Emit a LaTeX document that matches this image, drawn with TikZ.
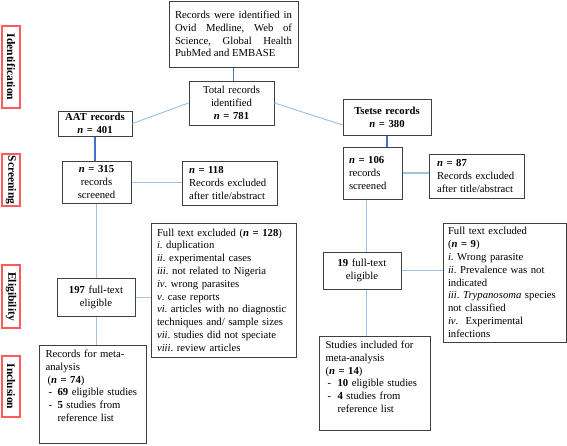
\documentclass[tikz,border=0pt]{standalone}
\usepackage{fontspec}
\setmainfont{Liberation Serif}
\usetikzlibrary{calc}
\definecolor{boxline}{HTML}{404040}
\definecolor{darkblue}{HTML}{4472C4}
\definecolor{lightblue}{HTML}{9DC3E6}
\definecolor{labred}{HTML}{FF5B5B}
\newcommand\nn{\textbf{\textit{n}}}
\frenchspacing
\begin{document}
\frenchspacing
\begin{tikzpicture}[x=1pt,y=-1pt,
  every node/.style={font=\fontsize{10.7}{12.8}\selectfont},
  box/.style={draw=boxline, line width=1pt, fill=white, inner ysep=0pt, inner xsep=4pt, align=center},
  lbox/.style={box, align=left},
  stagebox/.style={draw=labred, line width=1.1pt, rotate=-90, inner sep=0pt, font=\fontsize{11.5}{12}\selectfont\bfseries},
  dline/.style={draw=darkblue, line width=1.2pt},
  lline/.style={draw=lightblue, line width=1pt},
  tline/.style={draw=lightblue, line width=1.8pt}]
\useasboundingbox (0,0) rectangle (567,445);

% stage labels
\node[stagebox, minimum width=82pt, minimum height=18pt] (ident) at (11,67) {Identification};
\node[stagebox, minimum width=52pt, minimum height=18pt] (scr) at (11,180) {Screening};
\node[stagebox, minimum width=63pt, minimum height=18pt] (elig) at (11,296.5) {Eligibility};
\node[stagebox, minimum width=61pt, minimum height=18pt] (incl) at (11,386.5) {Inclusion};

% boxes
\node[box, align=justify, inner xsep=6pt, text width=117pt, minimum height=66pt] (top) at (233.5,34)
  {Records were identified in\linebreak Ovid Medline, Web of\linebreak Science, Global Health\linebreak PubMed and EMBASE};
\node[box, text width=77pt, minimum height=44pt] (total) at (231.5,103)
  {Total records\\ identified\\ \nn\textbf{ = 781}};
\node[box, text width=66pt, minimum height=25pt] (aat) at (95,123.5)
  {\textbf{AAT records}\\ \nn\textbf{ = 401}};
\node[box, text width=61pt, minimum height=42pt] (n315) at (96.5,182)
  {\nn\textbf{ = 315}\\ records\\ screened};
\node[lbox, inner xsep=7pt, text width=81pt, minimum height=44pt] (n118) at (229.5,183)
  {\nn\textbf{ = 118}\\ Records excluded\\ after title/abstract};
\node[box, text width=80pt, minimum height=36pt] (tsetse) at (387,117)
  {\textbf{Tsetse records}\\ \nn\textbf{ = 380}};
\node[lbox, inner xsep=6pt, text width=47pt, minimum height=52pt] (n106) at (372.5,173)
  {\nn\textbf{ = 106}\\ records\\ screened};
\node[lbox, inner xsep=8pt, text width=79pt, minimum height=44pt] (n87) at (476.5,176)
  {\nn\textbf{ = 87}\\ Records excluded\\ after title/abstract};
\node[box, text width=70pt, minimum height=38pt] (n197) at (96,297)
  {\textbf{197} full-text\\ eligible};
\node[lbox, inner xsep=6pt, text width=133pt, minimum height=134pt] (ex128) at (223.5,290)
  {Full text excluded (\nn\textbf{ = 128})\\
   \textit{i}. duplication\\
   \textit{ii}. experimental cases\\
   \textit{iii}. not related to Nigeria\\
   \textit{iv}. wrong parasites\\
   \textit{v}. case reports\\
   \textit{vi}. articles with no diagnostic\\
   techniques and/ sample sizes\\
   \textit{vii}. studies did not speciate\\
   \textit{viii}. review articles};
\node[lbox, anchor=north west, inner xsep=6pt, inner ysep=4pt, text width=95pt, minimum height=98pt] (meta) at (39,345)
  {\begin{minipage}[t][89pt][t]{95pt}\raggedright
   Records for meta-\\ analysis\\
   \hspace*{2pt}(\nn\textbf{ = 74})\\
   \hspace*{3pt}\makebox[9pt][l]{-}\textbf{69} eligible studies\\
   \hspace*{3pt}\makebox[9pt][l]{-}\textbf{5} studies from\\
   \hspace*{12pt}reference list\end{minipage}};
\node[box, text width=70pt, minimum height=37pt] (n19) at (362,270.5)
  {\textbf{19} full-text\\ eligible};
\node[lbox, inner xsep=5pt, text width=113pt, minimum height=119pt] (ex9) at (504.5,282.5)
  {Full text excluded\\
   (\nn\textbf{ = 9})\\
   \textit{i}. Wrong parasite\\
   \textit{ii}. Prevalence was not\\
   indicated\\
   \textit{iii}. \textit{Trypanosoma} species\\
   not classified\\
   \textit{iv}.\ \ Experimental\\
   infections};
\node[lbox, anchor=north west, inner xsep=6pt, inner ysep=4pt, text width=99pt, minimum height=94pt] (st14) at (319,336)
  {\begin{minipage}[t][85pt][t]{99pt}\raggedright
   Studies included for\\ meta-analysis\\
   (\nn\textbf{ = 14})\\
   \hspace*{2pt}\makebox[10pt][l]{-}\textbf{10} eligible studies\\
   \hspace*{2pt}\makebox[10pt][l]{-}\textbf{4} studies from\\
   \hspace*{12pt}reference list\end{minipage}};

% connectors
\draw[dline] (top.south) -- (top.south |- total.north);
\draw[lline] (total.west) -- (aat.east);
\draw[lline] (total.east) -- ([yshift=-8pt]tsetse.west);
\draw[dline] (aat.south) -- (aat.south |- n315.north);
\draw[dline] (tsetse.south) -- (tsetse.south |- n106.north);
\draw[lline] (n315.east) -- (n315.east -| n118.west);
\draw[tline] (n106.east) -- (n106.east -| n87.west);
\draw[lline] (n315.south) -- (n315.south |- n197.north);
\draw[lline] (n197.east) -- (n197.east -| ex128.west);
\draw[lline] (n197.south) -- (n197.south |- meta.north);
\coordinate (p106) at ([xshift=-6pt]n106.south);
\draw[lline] (p106) -- (p106 |- n19.north);
\draw[tline] (n19.east) -- (n19.east -| ex9.west);
\coordinate (p19) at ([xshift=4pt]n19.south);
\draw[lline] (p19) -- (p19 |- st14.north);
\end{tikzpicture}
\end{document}
